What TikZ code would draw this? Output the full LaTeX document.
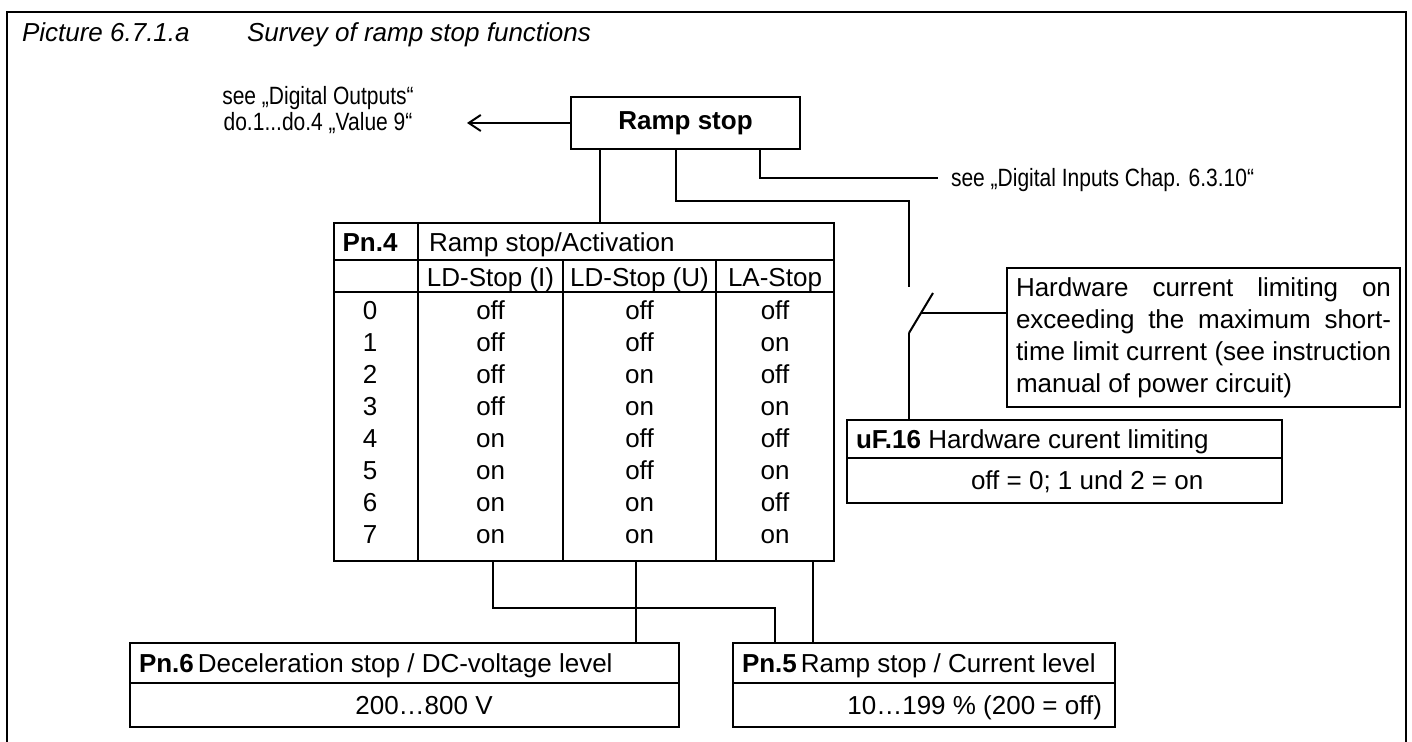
\documentclass[tikz,border=0pt]{standalone}
\usepackage{fontspec}
\usepackage{graphicx}
\setmainfont{Liberation Sans}
\usetikzlibrary{arrows.meta}
\newcommand{\narrowtext}[1]{\scalebox{0.84}[1]{#1}}

\begin{document}
\begin{tikzpicture}[x=0.5pt, y=-0.5pt, line width=1pt,
  every node/.style={font=\fontsize{13}{16}\selectfont, inner sep=0pt},
  cell/.style={text height=9.3pt, text depth=0pt},
  head/.style={cell, anchor=west},
  box/.style={draw, line width=1pt},
  title/.style={head, font=\fontsize{13}{16}\selectfont\itshape},
  note/.style={font=\fontsize{12.5}{13}\selectfont},
  >={Straight Barb[length=6pt, width=8pt]}]
\useasboundingbox (0,0) rectangle (1412,742);

% frame and title
\draw (7,742) -- (7,12) -- (1406,12) -- (1406,742);
\node[title] (picno) at (21,32) {Picture 6.7.1.a};
\node[title] (survey) at (246,32) {Survey of ramp stop functions};

% ramp stop and its references
\node[box, minimum width=114.5pt, minimum height=26pt, font=\fontsize{13}{16}\selectfont\bfseries] (ramp) at (685.5,123) {Ramp stop};
\node[note, align=center] (dout) at (318,110) {\narrowtext{see „Digital Outputs“}\\\narrowtext{do.1...do.4 „Value 9“}};
\coordinate (doutend) at (467,123);
\node[note, head, text height=8.9pt] (din) at (950,178) {\narrowtext{see „Digital Inputs Chap. 6.3.10“}};

\draw[->] (ramp.west) -- (doutend);
\draw (ramp.south -| 760,0) |- ([xshift=-6pt]din.west);

% Pn.4 table
\node[box, minimum width=250pt, minimum height=169pt] (pn4) at (584,392) {};
\draw (pn4.west |- 0,260) -- (pn4.east |- 0,260);
\draw (pn4.west |- 0,292) -- (pn4.east |- 0,292);
\draw (418,0 |- pn4.north) -- (418,0 |- pn4.south);
\foreach \x in {563,716}
  \draw (\x,260) -- (\x,0 |- pn4.south);
\node[cell, font=\fontsize{13}{16}\selectfont\bfseries] (pn4no) at (370,242) {Pn.4};
\node[head] (pn4name) at (428,242) {Ramp stop/Activation};
\node[cell] (ldi) at (490.5,277) {LD-Stop (I)};
\node[cell] (ldu) at (639.5,277) {LD-Stop (U)};
\node[cell] (las) at (775,277) {LA-Stop};
\foreach \a/\b/\c [count=\i from 0] in {off/off/off, off/off/on, off/on/off, off/on/on,
    on/off/off, on/off/on, on/on/off, on/on/on} {
  \node[cell] (nr\i) at (370,{310+32*\i}) {\i};
  \node[cell] (ldi\i) at (490.5,{310+32*\i}) {\a};
  \node[cell] (ldu\i) at (639.5,{310+32*\i}) {\b};
  \node[cell] (las\i) at (775,{310+32*\i}) {\c};
}

% hardware current limiting
\node[box, minimum width=196.5pt, minimum height=69.5pt, align=left] (hw) at (1203.5,337.5)
  {\makebox[187.5pt][s]{Hardware current limiting on}\\
   \makebox[187.5pt][s]{exceeding the maximum short-}\\
   \makebox[187.5pt][s]{time limit current (see instruction}\\
   manual of power circuit)};
\node[box, minimum width=217.5pt, minimum height=41.5pt] (uf) at (1064.5,461.5) {};
\draw (uf.west |- 0,458) -- (uf.east |- 0,458);
\node[head] (ufhead) at (855,439) {\textbf{uF.16} Hardware curent limiting};
\node[head] (ufval) at (970,480) {off = 0; 1 und 2 = on};

% switch
\coordinate (swtop) at (909,287);
\coordinate (swbot) at (909,333);
\coordinate (swblade) at (933,293);
\coordinate (swmid) at (921,313);
\draw (ramp.south -| 676,0) |- (909,201) -- (swtop);
\draw (swbot) -- (swblade);
\draw (swmid) -- (hw.west |- swmid);
\draw (swbot) -- (uf.north -| swbot);

% level parameters
\node[box, minimum width=274.5pt, minimum height=42pt] (pn6) at (404.5,685) {};
\draw (pn6.west |- 0,683) -- (pn6.east |- 0,683);
\node[head] (pn6head) at (138,663) {\textbf{Pn.6}\hspace{0.15em}Deceleration stop / DC-voltage level};
\node[cell] (pn6val) at (424,705) {200…800 V};
\node[box, minimum width=191pt, minimum height=42pt] (pn5) at (924,685) {};
\draw (pn5.west |- 0,683) -- (pn5.east |- 0,683);
\node[head] (pn5head) at (741,663) {\textbf{Pn.5}\hspace{0.15em}Ramp stop / Current level};
\node[cell, anchor=east] (pn5val) at (1103,705) {10…199 \% (200 = off)};

\draw (ramp.south -| 600,0) -- (pn4.north -| 600,0);
\draw (pn4.south -| 493,0) |- (775,608) -- (pn5.north -| 775,0);
\draw (pn4.south -| 636,0) -- (pn6.north -| 636,0);
\draw (pn4.south -| 813,0) -- (pn5.north -| 813,0);
\end{tikzpicture}
\end{document}
